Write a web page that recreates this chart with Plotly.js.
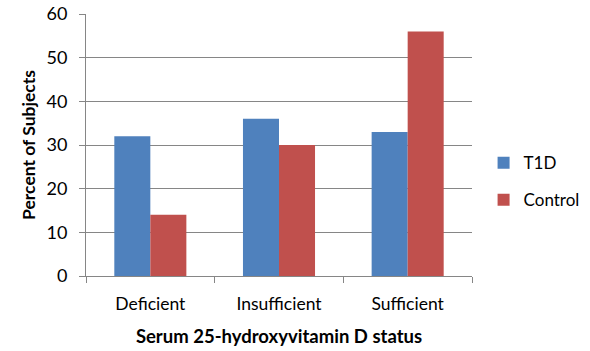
<!DOCTYPE html>
<html><head><meta charset="utf-8">
<script src="https://cdn.plot.ly/plotly-3.0.1.min.js"></script>
<style>html,body{margin:0;padding:0;background:#fff}#c{width:590px;height:351px}</style>
</head><body><div id="c"></div>
<script>
const categories = ["Deficient", "Insufficient", "Sufficient"];
const t1dValues = [32, 36, 33];
const controlValues = [14, 30, 56];
const seriesNames = ["T1D", "Control"];
const yTicks = [0, 10, 20, 30, 40, 50, 60];

const fontFam = "Lato, 'Open Sans', sans-serif";
const grid = "#868686";
const traces = [
  {type: "bar", name: seriesNames[0], x: categories, y: t1dValues, marker: {color: "#4F81BD"}, legendgroup: "a", hoverinfo: "none"},
  {type: "bar", name: seriesNames[1], x: categories, y: controlValues, marker: {color: "#C0504D"}, legendgroup: "b", hoverinfo: "none"}
];
const layout = {
  width: 590, height: 351,
  margin: {l: 86, r: 118, t: 14, b: 75, autoexpand: false},
  paper_bgcolor: "#fff", plot_bgcolor: "#fff",
  barmode: "group", bargap: 0.44, bargroupgap: 0,
  font: {family: fontFam, size: 17, color: "#000"},
  xaxis: {
    type: "category", tickson: "boundaries", ticks: "outside", ticklen: 6, tickcolor: grid,
    showline: true, linecolor: grid, linewidth: 1, showgrid: false, automargin: false,
    tickfont: {size: 17.5}, ticklabelstandoff: 12,
    title: {text: "<b>Serum 25-hydroxyvitamin D status</b>", font: {size: 18.5}, standoff: 17}
  },
  yaxis: {
    range: [0, 60], tickvals: yTicks, ticks: "outside", ticklen: 6, tickcolor: grid,
    showline: true, linecolor: grid, linewidth: 1, showgrid: true, gridcolor: grid, gridwidth: 1,
    zeroline: false, tickfont: {size: 18}, ticklabelstandoff: 8, automargin: false,
    title: {text: "<b>Percent of Subjects</b>", font: {size: 17.5}, standoff: 6}
  },
  legend: {x: 1.03, xanchor: "left", y: 0.36, yanchor: "middle", font: {size: 17}, tracegroupgap: 12, itemwidth: 30},
  showlegend: true
};
Plotly.newPlot("c", traces, layout, {staticPlot: true, displayModeBar: false});
</script></body></html>
